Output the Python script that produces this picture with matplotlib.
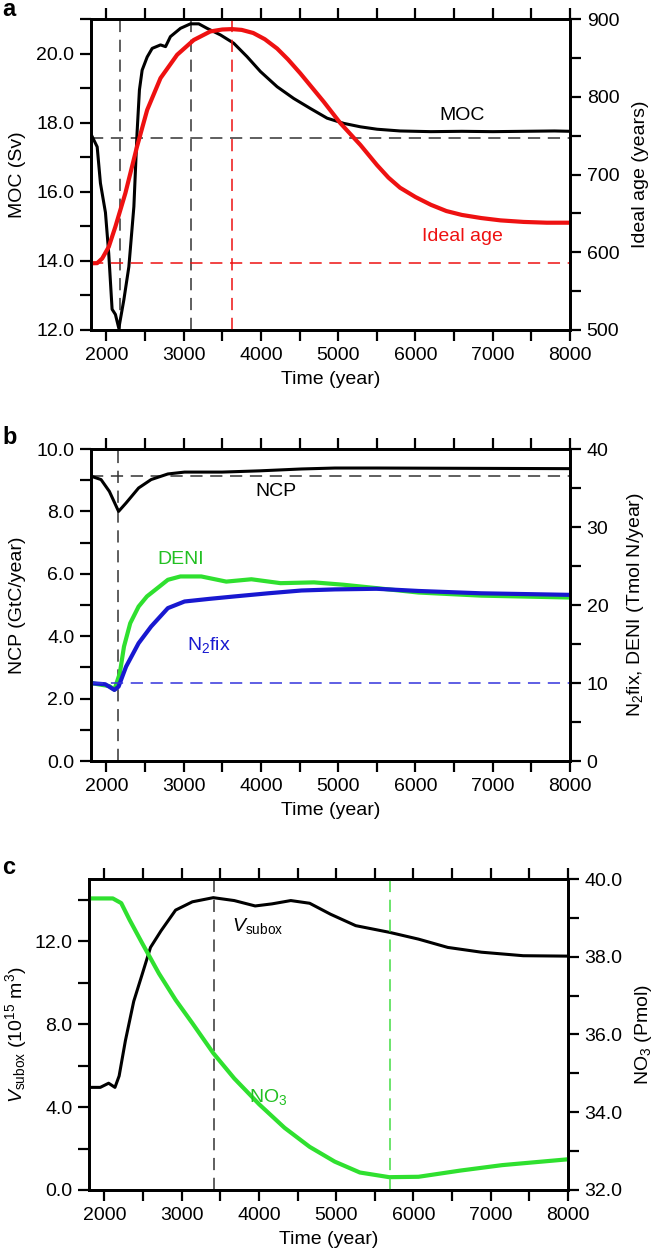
import matplotlib
matplotlib.use('Agg')
import matplotlib.pyplot as plt
from matplotlib.ticker import MultipleLocator, FormatStrFormatter

plt.rcParams['font.family'] = ['Liberation Sans', 'DejaVu Sans']
plt.rcParams['mathtext.fontset'] = 'custom'
plt.rcParams['mathtext.rm'] = 'Liberation Sans'
plt.rcParams['mathtext.it'] = 'Liberation Sans:italic'
plt.rcParams['font.size'] = 14

# ---- panel a: MOC and ideal age
moc_year = [1806, 1880, 1922, 1987, 2030, 2073, 2116, 2160, 2225, 2290, 2355, 2396,
            2427, 2462, 2527, 2592, 2700, 2765, 2828, 2958, 3087, 3195, 3302, 3475,
            3647, 3820, 3993, 4209, 4424, 4640, 4856, 5071, 5287, 5503, 5800, 6200,
            6600, 7000, 7400, 7800, 8000]
moc = [17.64, 17.3, 16.25, 15.4, 14.2, 12.6, 12.45, 12.05, 12.87, 13.83, 15.57, 17.7,
       18.95, 19.52, 19.9, 20.15, 20.25, 20.2, 20.49, 20.73, 20.86, 20.86, 20.73, 20.54,
       20.3, 19.91, 19.48, 19.04, 18.7, 18.41, 18.13, 17.98, 17.88, 17.81, 17.76, 17.74,
       17.75, 17.74, 17.75, 17.76, 17.75]
age_year = [1806, 1880, 1945, 2030, 2116, 2245, 2396, 2527, 2700, 2915, 3130, 3345,
            3500, 3625, 3750, 3900, 4050, 4209, 4350, 4510, 4812, 5028, 5287, 5503,
            5650, 5800, 6000, 6200, 6400, 6600, 6850, 7100, 7400, 7700, 8000]
age = [585.8, 586, 592, 607, 633, 676, 736, 783, 824, 854, 873, 884,
       886.5, 887, 886, 882, 874, 862, 848, 830, 793.6, 766, 738, 712,
       696, 683, 671, 661, 653, 648, 644, 641, 639, 638, 638]
moc_ref = 17.55
age_ref = 585.8
moc_min_year = 2170
moc_max_year = 3090
age_max_year = 3625

# ---- panel b: NCP, DENI, N2fix
ncp_year = [1811, 1930, 2038, 2157, 2254, 2416, 2578, 2795, 3011, 3497, 3984, 4524,
            4957, 5497, 8000]
ncp = [9.12, 9.02, 8.64, 8.0, 8.27, 8.75, 9.02, 9.2, 9.26, 9.26, 9.3, 9.36,
       9.39, 9.39, 9.37]
deni_year = [1811, 2038, 2103, 2173, 2227, 2308, 2416, 2524, 2686, 2795, 2957, 3227,
             3551, 3876, 4254, 4686, 5065, 5497, 6038, 6849, 8000]
deni = [9.97, 9.6, 9.15, 11.25, 14.67, 17.67, 19.8, 21.1, 22.37, 23.23, 23.66, 23.66,
        23.0, 23.3, 22.8, 22.9, 22.6, 22.16, 21.6, 21.2, 20.96]
n2fix_year = [1811, 1984, 2103, 2157, 2254, 2416, 2578, 2795, 3011, 3335, 3659, 4092,
              4524, 4957, 5497, 6038, 6849, 8000]
n2fix = [9.97, 9.84, 9.11, 9.54, 12.1, 15.1, 17.24, 19.6, 20.45, 20.79, 21.1, 21.5,
         21.86, 22.0, 22.08, 21.8, 21.5, 21.3]
ncp_ref = 9.12
n2fix_ref = 10.0
ncp_min_year = 2150

# ---- panel c: suboxic volume and NO3
vsub_year = [1810, 1946, 2054, 2136, 2190, 2271, 2379, 2488, 2596, 2732, 2921, 3138,
             3409, 3680, 3951, 4168, 4412, 4656, 4927, 5252, 5686, 6065, 6444, 6878,
             7420, 8000]
vsub = [4.95, 4.95, 5.15, 4.95, 5.5, 7.2, 9.1, 10.4, 11.7, 12.5, 13.5, 13.9,
        14.1, 13.96, 13.7, 13.8, 13.96, 13.83, 13.3, 12.75, 12.43, 12.1, 11.7, 11.47,
        11.3, 11.28]
no3_year = [1810, 2108, 2217, 2325, 2488, 2705, 2921, 3138, 3409, 3680, 4005, 4331,
            4656, 4981, 5306, 5686, 6065, 6607, 7149, 8000]
no3 = [39.5, 39.5, 39.38, 38.95, 38.35, 37.57, 36.89, 36.29, 35.52, 34.87, 34.2, 33.6,
       33.11, 32.73, 32.45, 32.33, 32.34, 32.5, 32.64, 32.79]
vsub_max_year = 3420
no3_min_year = 5700

RED = '#ee1111'
GREEN = '#2fe02f'
BLUE = '#1818d0'
DASH = (0, (8, 5))

W, H = 656, 1255
fig = plt.figure(figsize=(W / 100, H / 100), dpi=100)


def make_axes(top_px, bottom_px, left_px=91, right_px=570):
    rect = [left_px / W, 1 - bottom_px / H, (right_px - left_px) / W, (bottom_px - top_px) / H]
    ax = fig.add_axes(rect)
    ax2 = ax.twinx()
    for a in (ax, ax2):
        for s in a.spines.values():
            s.set_linewidth(2.0)
        a.tick_params(which='both', direction='out', length=8, width=1.6, pad=4)
    ax.set_xlim(1800, 8000)
    ax.xaxis.set_major_locator(MultipleLocator(1000))
    ax.xaxis.set_minor_locator(MultipleLocator(500))
    ax.tick_params(axis='x', which='both', top=True)
    ax.set_xlabel('Time (year)', labelpad=5)
    return ax, ax2


# ---------------- a
ax, ax2 = make_axes(19, 330)
ax.plot(moc_year, moc, color='black', lw=2.2, zorder=3)
ax.set_ylim(12, 21)
ax.yaxis.set_major_locator(MultipleLocator(2))
ax.yaxis.set_minor_locator(MultipleLocator(1))
ax.yaxis.set_major_formatter(FormatStrFormatter('%.1f'))
ax.axhline(moc_ref, color='#333333', lw=1.1, ls=DASH)
ax.axvline(moc_min_year, color='#333333', lw=1.1, ls=DASH)
ax.axvline(moc_max_year, color='#333333', lw=1.1, ls=DASH)
ax.set_ylabel('MOC (Sv)')
ax.yaxis.set_label_coords(-0.135, 0.5)
ax.text(6605, 18.22, 'MOC', ha='center', va='center')

ax2.plot(age_year, age, color=RED, lw=3.0)
ax2.set_ylim(500, 900)
ax2.yaxis.set_major_locator(MultipleLocator(100))
ax2.yaxis.set_minor_locator(MultipleLocator(50))
ax2.axhline(age_ref, color=RED, lw=1.1, ls=DASH)
ax2.axvline(age_max_year, color=RED, lw=1.1, ls=DASH)
ax2.set_ylabel('Ideal age (years)')
ax2.yaxis.set_label_coords(1.13, 0.5)
ax2.text(6605, 500 + (14.7 - 12) / 9 * 400, 'Ideal age', color=RED, ha='center', va='center')

# ---------------- b
ax, ax2 = make_axes(449, 761)
ax.plot(ncp_year, ncp, color='black', lw=2.2, zorder=3)
ax.set_ylim(0, 10)
ax.yaxis.set_major_locator(MultipleLocator(2))
ax.yaxis.set_minor_locator(MultipleLocator(1))
ax.yaxis.set_major_formatter(FormatStrFormatter('%.1f'))
ax.axhline(ncp_ref, color='#333333', lw=1.1, ls=DASH)
ax.axvline(ncp_min_year, color='#333333', lw=1.1, ls=DASH)
ax.set_ylabel('NCP (GtC/year)')
ax.yaxis.set_label_coords(-0.135, 0.5)
ax.text(4200, 8.64, 'NCP', ha='center', va='center')

ax2.plot(deni_year, deni, color=GREEN, lw=3.0)
ax2.plot(n2fix_year, n2fix, color=BLUE, lw=3.0)
ax2.set_ylim(0, 40)
ax2.yaxis.set_major_locator(MultipleLocator(10))
ax2.yaxis.set_minor_locator(MultipleLocator(5))
ax2.axhline(n2fix_ref, color='#3333dd', lw=1.1, ls=DASH)
ax2.set_ylabel('N$_2$fix, DENI (Tmol N/year)')
ax2.yaxis.set_label_coords(1.115, 0.5)
ax2.text(2957, 25.8, 'DENI', color='#22c022', ha='center', va='center')
ax2.text(3319, 14.9, 'N$_2$fix', color=BLUE, ha='center', va='center')

# ---------------- c
ax, ax2 = make_axes(879, 1190, 89, 568)
ax.plot(vsub_year, vsub, color='black', lw=2.2, zorder=3)
ax.set_ylim(0, 15)
ax.yaxis.set_major_locator(MultipleLocator(4))
ax.yaxis.set_minor_locator(MultipleLocator(2))
ax.yaxis.set_major_formatter(FormatStrFormatter('%.1f'))
ax.axvline(vsub_max_year, color='#333333', lw=1.1, ls=DASH)
ax.set_ylabel(r'$V_{\mathrm{subox}}$ (10$^{15}$ m$^{3}$)')
ax.yaxis.set_label_coords(-0.125, 0.5)
ax.text(3978, 12.75, r'$V_{\mathrm{subox}}$', ha='center', va='center')

ax2.plot(no3_year, no3, color=GREEN, lw=3.0)
ax2.set_ylim(32, 40)
ax2.yaxis.set_major_locator(MultipleLocator(2))
ax2.yaxis.set_minor_locator(MultipleLocator(1))
ax2.yaxis.set_major_formatter(FormatStrFormatter('%.1f'))
ax2.axvline(no3_min_year, color='#44dd44', lw=1.1, ls=DASH)
ax2.set_ylabel('NO$_3$ (Pmol)')
ax2.yaxis.set_label_coords(1.135, 0.5)
ax2.text(4114, 34.4, 'NO$_3$', color='#22c022', ha='center', va='center')

for letter, ypx in (('a', 10), ('b', 437), ('c', 868)):
    fig.text(2 / W, 1 - ypx / H, letter, fontsize=17, fontweight='bold', va='center', ha='left')

fig.savefig('out.png', dpi=100)
